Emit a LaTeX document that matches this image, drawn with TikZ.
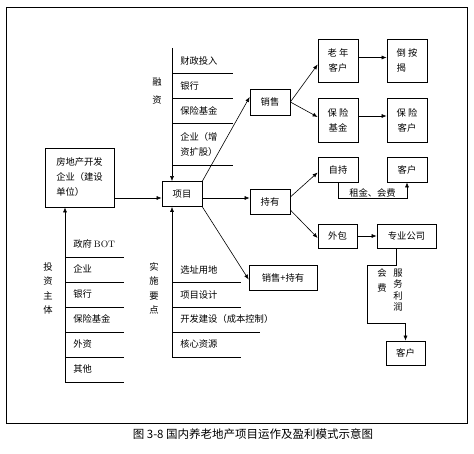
\documentclass[tikz,border=0pt]{standalone}
\usepackage{fontspec}
\newfontfamily\cjk{Noto Sans CJK SC}
\usepackage{tikz}
\usetikzlibrary{arrows.meta}

\tikzset{
  box/.style={draw, line width=0.7pt, minimum width=40pt, minimum height=25pt, inner sep=1pt, align=center},
  arr/.style={-{Latex[length=5pt,width=4pt]}},
  item/.style={anchor=west, inner sep=0pt},
  vlbl/.style={align=center, inner sep=0pt},
}

\begin{document}
\begin{tikzpicture}[x=1pt,y=-1pt, line width=0.6pt, font=\cjk\fontsize{9.3}{15}\selectfont]
\useasboundingbox (0,0) rectangle (474,454);
%外框
\draw[line width=0.8pt] (6,7) rectangle (467,423);

%中间的项目和开发企业
\node[box] (xm) at (182,194) {项目};
\node[box, minimum width=69pt, minimum height=59pt, align=left] (dev) at (79.5,177.5) {房地产开发\\企业（建设\\单位）};
\coordinate (mid) at (0,198);
\draw[arr] (dev.east |- mid) -- (xm.west |- mid);

%融资
\coordinate (rztop) at (172,48);
\draw[arr] (rztop) -- (rztop |- xm.north);
\foreach \y in {73,98,123,165} \draw (172,\y) -- (233,\y);
\node[item] (rz1) at (180,61) {财政投入};
\node[item] (rz2) at (180,86) {银行};
\node[item] (rz3) at (180,111) {保险基金};
\node[item, align=left] (rz4) at (180,144.5) {企业（增\\资扩股）};
\node[vlbl, font=\cjk\fontsize{9.3}{18}\selectfont] (rz) at (157,91) {融\\资};

%投资主体
\coordinate (tzbot) at (65,382);
\draw[arr] (tzbot) -- (tzbot |- dev.south);
\foreach \y in {257,282,...,382} \draw (65,\y) -- (124,\y);
\node[item] (tz1) at (73,244) {政府 {\rmfamily BOT}};
\node[item] (tz2) at (73,269) {企业};
\node[item] (tz3) at (73,294) {银行};
\node[item] (tz4) at (73,319) {保险基金};
\node[item] (tz5) at (73,344) {外资};
\node[item] (tz6) at (73,369) {其他};
\node[vlbl, font=\cjk\fontsize{9.3}{14.5}\selectfont] (tz) at (48,288.5) {投\\资\\主\\体};

%实施要点
\coordinate (ssbot) at (172,357);
\draw[arr] (ssbot) -- (ssbot |- xm.south);
\draw (172,282) -- (241,282);
\draw (172,307) -- (241,307);
\draw (172,332) -- (260,332);
\draw (172,357) -- (241,357);
\node[item] (ss1) at (180,270) {选址用地};
\node[item] (ss2) at (180,295) {项目设计};
\node[item] (ss3) at (180,319) {开发建设（成本控制）};
\node[item] (ss4) at (180,344) {核心资源};
\node[vlbl, font=\cjk\fontsize{9.3}{14.5}\selectfont] (ss) at (154,288.5) {实\\施\\要\\点};

%第二层 销售 持有
\node[box, minimum height=26pt] (xs) at (270,102) {销售};
\node[box] (cy) at (270,202) {持有};
\node[box, minimum width=68pt] (xscy) at (283,277.5) {销售+持有};
\draw[arr] (xm.north east) -- ([yshift=5pt]xs.west);
\draw[arr] (xm.east |- mid) -- (cy.west |- mid);
\draw[arr] (xm.south east) -- ([yshift=-2pt]xscy.west);

%销售向右
\node[box, minimum height=43pt] (lnkh) at (338,60.5) {老 年\\客户};
\node[box, minimum height=43pt, align=left] (daj) at (407,60.5) {倒 按\\揭};
\node[box, minimum height=44pt] (bxjj) at (338,120) {保 险\\基金};
\node[box, minimum height=44pt] (bxkh) at (407,120) {保 险\\客户};
\draw[arr] (xs.east) -- ([yshift=-4pt]lnkh.west);
\draw[arr] (xs.east) -- ([yshift=3pt]bxjj.west);
\draw[arr] ([yshift=3pt]lnkh.east) -- ([yshift=3pt]daj.west);
\draw[arr] ([yshift=4pt]bxjj.east) -- ([yshift=4pt]bxkh.west);

%持有向右
\node[box] (zc) at (338,169.5) {自持};
\node[box] (kh1) at (407,169.5) {客户};
\node[box, minimum width=39pt, minimum height=24pt] (wb) at (337.5,236) {外包};
\node[box, minimum width=59pt, minimum height=24pt] (zygs) at (406.5,236) {专业公司};
\node[box, minimum width=39pt, minimum height=24pt] (kh2) at (405.5,353) {客户};
\draw[arr] ([yshift=5pt]cy.east) -- ([yshift=-3pt]zc.west);
\draw[arr] ([yshift=-8pt]cy.east) -- ([yshift=-2pt]wb.west);
\draw[arr] (zc.south) -- ++(0,16) -| node[pos=0.25, above, inner sep=1pt] (zjhf) {租金、会费} (kh1.south);
\draw[arr] (wb.east) -- (zygs.west);
\draw[arr] ([xshift=-10pt]zygs.south) -- ++(0,17) -- ++(-29,0) -- ++(0,58) -| (kh2.north);
\node[vlbl] (hf) at (382,280) {会\\费};
\node[vlbl, font=\cjk\fontsize{9.3}{11.5}\selectfont] (fwlr) at (398,290) {服\\务\\利\\润};

%图题
\node[font=\cjk\fontsize{11.5}{14}\selectfont] (title) at (253,434) {图 3-8 国内养老地产项目运作及盈利模式示意图};
\end{tikzpicture}
\end{document}
